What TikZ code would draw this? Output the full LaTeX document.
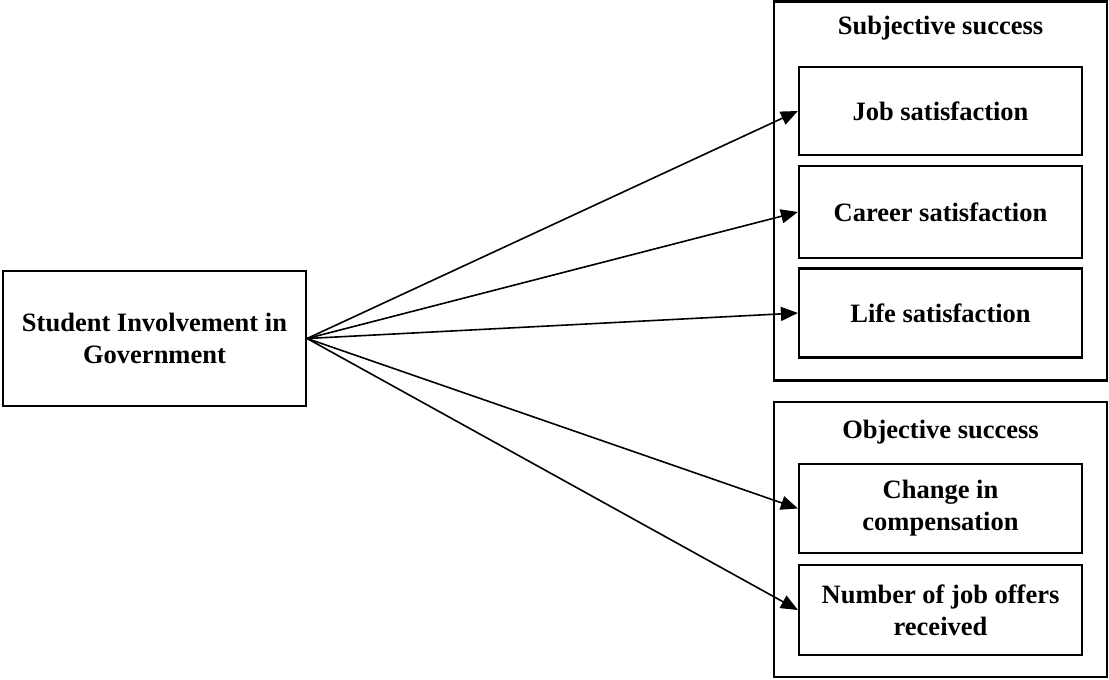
\documentclass[tikz,border=0pt]{standalone}
\usepackage{fontspec}
\setmainfont{Liberation Serif}
\usetikzlibrary{arrows.meta}
\begin{document}
\begin{tikzpicture}[x=1pt,y=-1pt,
  txt/.style={align=center, font=\bfseries\fontsize{26.5}{32}\selectfont, inner sep=0pt},
  box/.style={txt, draw, line width=2.2pt},
  frame/.style={draw, line width=2.2pt, inner sep=0pt},
  link/.style={-{Triangle[length=17pt,width=14pt]}, line width=1.6pt}]
\useasboundingbox (0,0) rectangle (1109,680);

% predictor
\node[box, minimum width=303, minimum height=135] (siig) at (154.5,338.5)
  {Student Involvement in\\Government};

% subjective outcomes
\node[frame, minimum width=333, minimum height=379] (subj) at (940.5,191) {};
\node[txt] (subjt) at (940.5,28) {Subjective success};
\node[box, minimum width=283, minimum height=88] (job) at (940.5,111) {Job satisfaction};
\node[box, minimum width=283, minimum height=92] (career) at (940.5,212) {Career satisfaction};
\node[box, minimum width=283, minimum height=89] (life) at (940.5,313) {Life satisfaction};

% objective outcomes
\node[frame, minimum width=333, minimum height=275] (obj) at (940.5,539.5) {};
\node[txt] (objt) at (940.5,432) {Objective success};
\node[box, minimum width=283, minimum height=89] (comp) at (940.5,508.5) {Change in\\compensation};
\node[box, minimum width=283, minimum height=90] (offers) at (940.5,610) {Number of job offers\\received};

% paths
\foreach \t in {job,career,life,comp,offers}
  \draw[link] (siig.east) -- (\t.west);
\end{tikzpicture}
\end{document}
